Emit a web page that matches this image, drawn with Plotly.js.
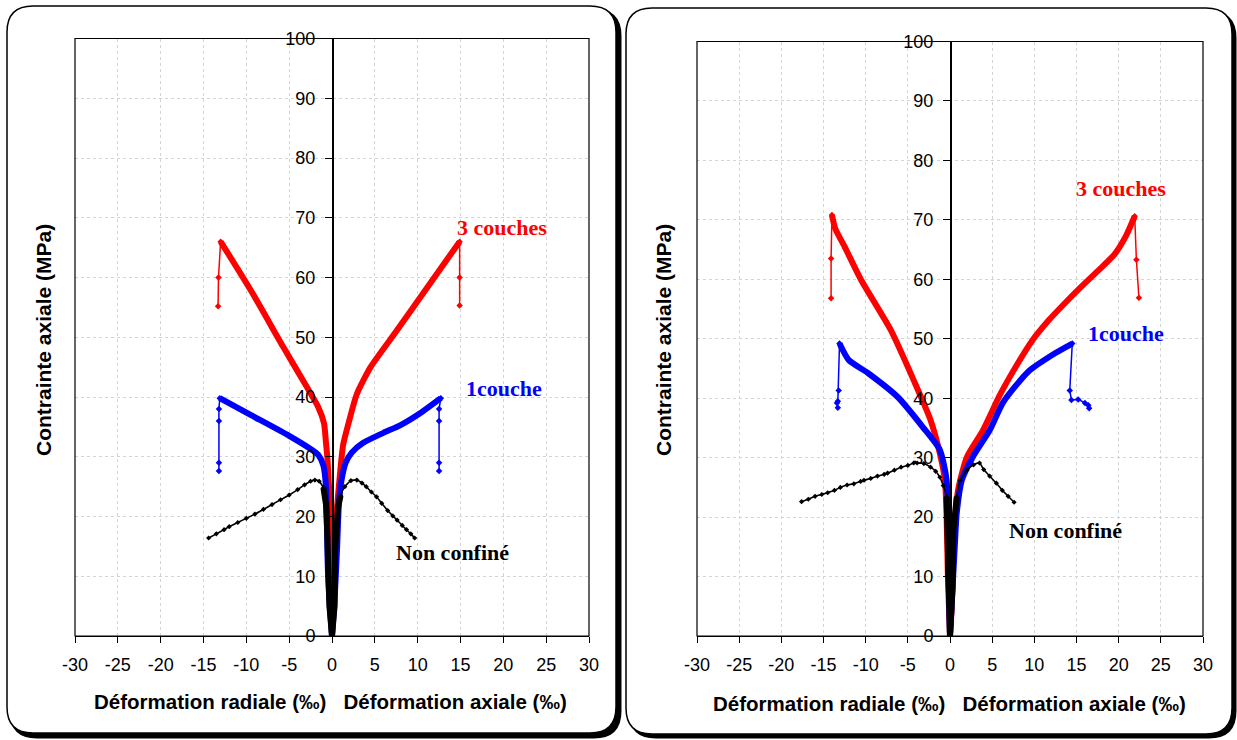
<!DOCTYPE html>
<html><head><meta charset="utf-8">
<script src="https://cdn.plot.ly/plotly-3.0.1.min.js"></script>
<style>body{margin:0;padding:0;background:#fff}#c{width:1237px;height:740px}</style>
</head><body><div id="c"></div>
<script>
// ---------- tick labels ----------
const xTickVals = [-30,-25,-20,-15,-10,-5,0,5,10,15,20,25,30];
const xTickText = ["-30","-25","-20","-15","-10","-5","0","5","10","15","20","25","30"];
const yTickVals = [0,10,20,30,40,50,60,70,80,90,100];

// ---------- LEFT chart data ----------
// 3 couches (red)
const L_red_rad_x = [0,-0.1,-0.2,-0.35,-0.55,-0.7,-0.93,-1.6,-2.95,-5.7,-9.5,-13.0];
const L_red_rad_y = [0,10,20,25,30,32.3,35.6,38.3,41.7,48.4,57.9,66];
const L_red_rad_drop_x = [-13.0,-13.25,-13.3];
const L_red_rad_drop_y = [66,60,55.2];
const L_red_ax_x = [0,0.1,0.3,0.5,0.8,1.3,2.0,2.9,4.5,7.5,11.2,14.9];
const L_red_ax_y = [0,5,15,20,25,32,36,40.5,45,51,58.5,66];
const L_red_ax_drop_x = [14.9,14.9,14.9];
const L_red_ax_drop_y = [66,60,55.3];
// 1couche (blue)
const L_blue_rad_x = [0,-0.3,-0.5,-0.6,-0.7,-1.0,-1.6,-2.5,-5,-9.5,-13.1];
const L_blue_rad_y = [0,6,12,20,25,28.5,30.3,31.3,33.5,37,39.8];
const L_blue_rad_drop_x = [-13.1,-13.2,-13.2,-13.2,-13.2];
const L_blue_rad_drop_y = [39.8,38,36,29,27.6];
const L_blue_ax_x = [0,0.3,0.6,0.8,1.1,1.6,2.3,3.6,6,8,10.5,12.7];
const L_blue_ax_y = [0,6,15,22,26,29,30.7,32.3,34,35.3,37.5,39.8];
const L_blue_ax_drop_x = [12.7,12.5,12.5,12.5,12.5];
const L_blue_ax_drop_y = [39.8,38,36,29,27.6];
// Non confiné (black)
const L_blk_rad_x = [-14.4,-13.5,-12.6,-12,-11,-10,-9,-8,-7,-6,-5,-4,-3.2,-2.5,-2,-1.5,-1.0,-0.7,-0.55,-0.5,-0.3,0];
const L_blk_rad_y = [16.4,17.1,17.8,18.3,19.0,19.7,20.4,21.2,22.0,22.8,23.6,24.5,25.3,25.9,26.1,25.9,24.8,22,17,10,5,0];
const L_blk_ax_x = [0,0.3,0.35,0.5,0.7,1.0,1.5,2.2,2.9,3.5,4,4.6,5.2,5.8,6.5,7.1,7.6,8.2,8.7,9.2,9.65];
const L_blk_ax_y = [0,5,14,19,21.5,23.5,25,26,26.1,25.6,25,24.1,23.3,22.2,21,20.1,19.4,18.5,17.8,17.1,16.4];

// ---------- RIGHT chart data ----------
const R_red_rad_x = [0,-0.25,-0.4,-0.6,-1.2,-2.3,-4.3,-7,-10.5,-12.5,-13.6,-14];
const R_red_rad_y = [0,10,20,26.2,30.7,36.3,43,51.4,59.8,65.5,68.5,70.8];
const R_red_rad_drop_x = [-14,-14.1,-14.1];
const R_red_rad_drop_y = [70.8,63.5,56.8];
const R_red_ax_x = [0,0.2,0.4,0.95,2.0,3.9,5.9,7.8,9.7,11.7,13.7,15.6,17.6,19.5,20.9,21.9];
const R_red_ax_y = [0,5,15,24.5,30.1,34.6,40.5,45.3,49.6,53.1,56.1,58.8,61.5,64.2,67.4,70.6];
const R_red_ax_drop_x = [21.9,22.1,22.4];
const R_red_ax_drop_y = [70.6,63.3,56.9];
const R_blue_rad_x = [0,-0.2,-0.4,-1.2,-3.2,-6.2,-9.7,-12,-13.1];
const R_blue_rad_y = [0,12,26.2,31.3,35.1,40.2,44.2,46.4,49.2];
const R_blue_rad_drop_x = [-13.1,-13.2,-13.3,-13.4,-13.3];
const R_blue_rad_drop_y = [49.2,41.3,39.5,39.2,38.4];
const R_blue_ax_x = [0,0.3,0.6,0.8,1.4,2.7,4.7,6.3,9.3,12.5,14.5];
const R_blue_ax_y = [0,8,16,20.7,26.2,30.1,34.6,39.3,44.5,47.6,49.2];
const R_blue_ax_drop_x = [14.5,14.2,14.4,15.2,16.0,16.4,16.5];
const R_blue_ax_drop_y = [49.2,41.3,39.7,39.8,39.2,38.8,38.3];
const R_blk_rad_x = [-17.6,-16.8,-16,-15.2,-14.5,-13.7,-13,-12.2,-11.4,-10.6,-10.2,-9.4,-8.6,-7.8,-7.4,-6.6,-5.8,-5,-4.3,-3.9,-3.1,-2.3,-1.7,-1.2,-0.8,-0.4,-0.35,-0.3,0];
const R_blk_rad_y = [22.6,23.0,23.5,23.8,24.1,24.5,25.0,25.4,25.6,26.0,26.2,26.5,26.9,27.2,27.4,27.9,28.4,28.7,29.1,29.1,29.0,28.4,27.7,26.7,25.3,23.4,20.7,10,0];
const R_blk_ax_x = [0,0.3,0.4,0.8,1.2,2.0,2.8,3.5,4.0,4.7,5.5,6.2,6.9,7.6];
const R_blk_ax_y = [0,8,17.8,23.4,26.2,27.9,28.8,29.1,28.0,26.9,25.7,24.5,23.5,22.5];

// ---------- label texts ----------
const lbl3 = "3 couches", lbl1 = "1couche", lblN = "Non confiné";
const yTitle = "Contrainte axiale (MPa)";
const xTitle = "Déformation radiale (‰)&nbsp;&nbsp;&nbsp;Déformation axiale (‰)";

const W = 1237, H = 740;
const RED = "#ff0000", BLUE = "#0000ff", BLK = "#000000";

function mainTrace(x, y, color, ax) {
  return {x, y, type: "scatter", mode: "lines", line: {color, width: 6, shape: "spline", smoothing: 0.6},
    xaxis: ax[0], yaxis: ax[1], hoverinfo: "skip", showlegend: false};
}
function dropTrace(x, y, color, ax) {
  return {x, y, type: "scatter", mode: "lines+markers", line: {color, width: 1.5},
    marker: {color, size: 5, symbol: "diamond"}, xaxis: ax[0], yaxis: ax[1],
    hoverinfo: "skip", showlegend: false};
}
function blkTrace(x, y, ax) {
  return {x, y, type: "scatter", mode: "lines+markers", line: {color: BLK, width: 1.6, shape: "spline", smoothing: 0.5},
    marker: {color: BLK, size: 4, symbol: "diamond"}, xaxis: ax[0], yaxis: ax[1],
    hoverinfo: "skip", showlegend: false};
}
function spike(x, y, ax) {
  // thick part near the origin (dense points)
  const xs = [], ys = [];
  for (let i = 0; i < x.length; i++) if (y[i] <= 25 && Math.abs(x[i]) <= 1.0) { xs.push(x[i]); ys.push(y[i]); }
  return {x: xs, y: ys, type: "scatter", mode: "lines", line: {color: BLK, width: 6},
    xaxis: ax[0], yaxis: ax[1], hoverinfo: "skip", showlegend: false};
}

const A1 = ["x", "y"], A2 = ["x2", "y2"];
const data = [
  mainTrace(L_red_rad_x, L_red_rad_y, RED, A1), dropTrace(L_red_rad_drop_x, L_red_rad_drop_y, RED, A1),
  mainTrace(L_red_ax_x, L_red_ax_y, RED, A1), dropTrace(L_red_ax_drop_x, L_red_ax_drop_y, RED, A1),
  mainTrace(L_blue_rad_x, L_blue_rad_y, BLUE, A1), dropTrace(L_blue_rad_drop_x, L_blue_rad_drop_y, BLUE, A1),
  mainTrace(L_blue_ax_x, L_blue_ax_y, BLUE, A1), dropTrace(L_blue_ax_drop_x, L_blue_ax_drop_y, BLUE, A1),
  blkTrace(L_blk_rad_x, L_blk_rad_y, A1), blkTrace(L_blk_ax_x, L_blk_ax_y, A1),
  spike(L_blk_rad_x, L_blk_rad_y, A1), spike(L_blk_ax_x, L_blk_ax_y, A1),

  mainTrace(R_red_rad_x, R_red_rad_y, RED, A2), dropTrace(R_red_rad_drop_x, R_red_rad_drop_y, RED, A2),
  mainTrace(R_red_ax_x, R_red_ax_y, RED, A2), dropTrace(R_red_ax_drop_x, R_red_ax_drop_y, RED, A2),
  mainTrace(R_blue_rad_x, R_blue_rad_y, BLUE, A2), dropTrace(R_blue_rad_drop_x, R_blue_rad_drop_y, BLUE, A2),
  mainTrace(R_blue_ax_x, R_blue_ax_y, BLUE, A2), dropTrace(R_blue_ax_drop_x, R_blue_ax_drop_y, BLUE, A2),
  blkTrace(R_blk_rad_x, R_blk_rad_y, A2), blkTrace(R_blk_ax_x, R_blk_ax_y, A2),
  spike(R_blk_rad_x, R_blk_rad_y, A2), spike(R_blk_ax_x, R_blk_ax_y, A2)
];

const px = v => v / W, py = v => 1 - v / H;
function roundRect(x0, y0, x1, y1, r) {
  const X = px, Y = py;
  return `M ${X(x0 + r)},${Y(y0)} L ${X(x1 - r)},${Y(y0)} Q ${X(x1)},${Y(y0)} ${X(x1)},${Y(y0 + r)} ` +
    `L ${X(x1)},${Y(y1 - r)} Q ${X(x1)},${Y(y1)} ${X(x1 - r)},${Y(y1)} L ${X(x0 + r)},${Y(y1)} ` +
    `Q ${X(x0)},${Y(y1)} ${X(x0)},${Y(y1 - r)} L ${X(x0)},${Y(y0 + r)} Q ${X(x0)},${Y(y0)} ${X(x0 + r)},${Y(y0)} Z`;
}

const tickFont = {family: "Liberation Sans, Arial, sans-serif", size: 18, color: "#000"};
function xAxis(d, anchor) {
  return {domain: d, range: [-30, 30], anchor, tickvals: xTickVals, ticktext: xTickText,
    ticks: "outside", ticklen: 6, tickcolor: "#000", showline: true, linecolor: "#000", linewidth: 1.2,
    showgrid: true, gridcolor: "#d4d4d4", griddash: "dot", gridwidth: 1, zeroline: false,
    tickfont: tickFont, fixedrange: true, ticklabelstandoff: 6};
}
function yAxis(d, pos) {
  return {domain: d, range: [0, 100], anchor: "free", position: pos,
    tickvals: yTickVals, ticks: "outside", ticklen: 7, tickcolor: "#000", showline: true,
    linecolor: "#000", linewidth: 1.5, showgrid: true, gridcolor: "#d4d4d4", griddash: "dot",
    gridwidth: 1, zeroline: false, tickfont: tickFont, fixedrange: true, ticklabelstandoff: 6};
}

const LX0 = 75, LX1 = 589, LY0 = 38.5, LY1 = 636;
const RX0 = 697, RX1 = 1203, RY0 = 41.5, RY1 = 636;

const xTitleFont = {family: "Liberation Sans, Arial, sans-serif", size: 20.5, color: "#000"};
const yTitleFont = {family: "Liberation Sans, Arial, sans-serif", size: 21, color: "#000"};
const labFont = c => ({family: "Liberation Serif, Times New Roman, serif", size: 22, color: c});

const ann = (xref, yref, x, y, text, color) => ({xref, yref, x, y, text: "<b>" + text + "</b>",
  showarrow: false, font: labFont(color), xanchor: "center", yanchor: "middle"});

const layout = {
  width: W, height: H, margin: {l: 0, r: 0, t: 0, b: 0},
  paper_bgcolor: "#fff", plot_bgcolor: "rgba(0,0,0,0)", showlegend: false,
  xaxis: xAxis([px(LX0), px(LX1)], "y"),
  yaxis: yAxis([py(LY1), py(LY0)], (LX0 + LX1) / 2 / W),
  xaxis2: xAxis([px(RX0), px(RX1)], "y2"),
  yaxis2: yAxis([py(RY1), py(RY0)], (RX0 + RX1) / 2 / W),
  shapes: [
    {type: "path", xref: "paper", yref: "paper", path: roundRect(11, 10, 620, 737, 26),
      line: {color: "#000", width: 3}, fillcolor: "#000", layer: "below"},
    {type: "path", xref: "paper", yref: "paper", path: roundRect(7, 6, 616, 733, 26),
      line: {color: "#000", width: 1.5}, fillcolor: "#fff", layer: "below"},
    {type: "path", xref: "paper", yref: "paper", path: roundRect(630, 12, 1235, 737, 26),
      line: {color: "#000", width: 3}, fillcolor: "#000", layer: "below"},
    {type: "path", xref: "paper", yref: "paper", path: roundRect(626, 8, 1232, 734, 26),
      line: {color: "#000", width: 1.5}, fillcolor: "#fff", layer: "below"},
    {type: "rect", xref: "x domain", yref: "y domain", x0: 0, x1: 1, y0: 0, y1: 1,
      line: {color: "#000", width: 1.2}, layer: "above"},
    {type: "rect", xref: "x2 domain", yref: "y2 domain", x0: 0, x1: 1, y0: 0, y1: 1,
      line: {color: "#000", width: 1.2}, layer: "above"}
  ],
  annotations: [
    ann("x", "y", 19.9, 68.4, lbl3, RED),
    ann("x", "y", 20.1, 41.5, lbl1, BLUE),
    ann("x", "y", 14.1, 13.9, lblN, BLK),
    ann("x2", "y2", 20.3, 75.3, lbl3, RED),
    ann("x2", "y2", 20.9, 50.8, lbl1, BLUE),
    ann("x2", "y2", 13.7, 17.8, lblN, BLK),
    {xref: "paper", yref: "paper", x: px(43), y: py(340), text: "<b>" + yTitle + "</b>", textangle: -90,
      showarrow: false, font: yTitleFont, xanchor: "center", yanchor: "middle"},
    {xref: "paper", yref: "paper", x: px(663), y: py(340), text: "<b>" + yTitle + "</b>", textangle: -90,
      showarrow: false, font: yTitleFont, xanchor: "center", yanchor: "middle"},
    {xref: "paper", yref: "paper", x: px(330), y: py(701), text: "<b>" + xTitle + "</b>",
      showarrow: false, font: xTitleFont, xanchor: "center", yanchor: "middle"},
    {xref: "paper", yref: "paper", x: px(950), y: py(703), text: "<b>" + xTitle + "</b>",
      showarrow: false, font: xTitleFont, xanchor: "center", yanchor: "middle"}
  ]
};

Plotly.newPlot("c", data, layout, {staticPlot: true, displayModeBar: false});
</script></body></html>
